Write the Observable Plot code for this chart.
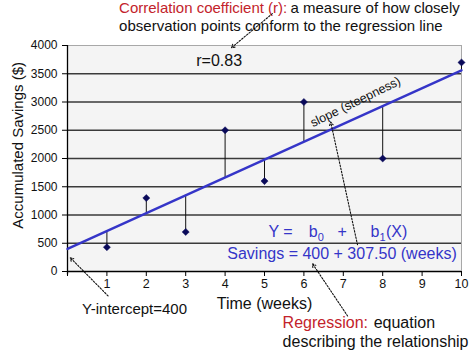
<!DOCTYPE html>
<html>
<head>
<meta charset="utf-8">
<script src="https://cdn.jsdelivr.net/npm/d3@7"></script>
<script src="https://cdn.jsdelivr.net/npm/@observablehq/plot@0.6"></script>
<style>
  html, body { margin: 0; padding: 0; background: #fff; }
  svg { display: block; font-family: "Liberation Sans", Arial, sans-serif; }
</style>
</head>
<body>
<div id="chart"></div>
<script>
// ---- data ----
const weeks = [1, 2, 3, 4, 5, 6, 8, 10];
const savings = [430, 1300, 700, 2500, 1600, 3000, 2000, 3700];
const yTicks = [0, 500, 1000, 1500, 2000, 2500, 3000, 3500, 4000];
const xTicks = [0, 1, 2, 3, 4, 5, 6, 7, 8, 9, 10];
const lineWeeks = [0, 10];
const lineSavings = [400, 3560];
const rText = "r=0.83";
const eqText = "Savings = 400 + 307.50 (weeks)";
const interceptText = "Y-intercept=400";

// ---- derived tables ----
const points = weeks.map((w, i) => ({week: w, savings: savings[i]}));
const fitLine = lineWeeks.map((w, i) => ({week: w, savings: lineSavings[i]}));
const slope = (lineSavings[1] - lineSavings[0]) / (lineWeeks[1] - lineWeeks[0]);
const fit = w => lineSavings[0] + slope * (w - lineWeeks[0]);
const residuals = points.map(d => ({week: d.week, y1: d.savings, y2: fit(d.week)}));

const RED = "#c3232b", BLUE = "#3535c8", NAVY = "#0a0a5a";
const arrowStyle = {stroke: "#111", strokeWidth: 1.1, strokeDasharray: "1.6,1.6", headLength: 5, bend: false};
const eqStyle = {textAnchor: "start", lineAnchor: "bottom", fontSize: 16, fill: BLUE};
const subStyle = {textAnchor: "start", lineAnchor: "bottom", fontSize: 11, fill: BLUE, dy: 4};

const chart = Plot.plot({
  width: 474,
  height: 355,
  marginLeft: 67,
  marginRight: 13,
  marginTop: 45,
  marginBottom: 84,
  style: {fontFamily: "'Liberation Sans', Arial, sans-serif", background: "#fff", overflow: "visible"},
  x: {domain: [0, 10]},
  y: {domain: [0, 4000]},
  marks: [
    Plot.frame({fill: "#f4f4f4", stroke: "#a8a8a8"}),
    Plot.ruleY(yTicks.filter(t => t > 0 && t < 4000), {stroke: "#3a3a3a", strokeWidth: 1.6}),
    Plot.ruleX([0], {stroke: "#000", strokeWidth: 1.3, y1: -60, y2: 4000}),
    Plot.ruleY([0], {stroke: "#000", strokeWidth: 1.3}),
    Plot.axisY({ticks: yTicks, tickSize: 5, tickPadding: 5, fontSize: 12, stroke: "#000", label: null, fill: "#111",
      tickFormat: d => String(d)}),
    Plot.axisX({ticks: xTicks, tickSize: 5, tickPadding: 3, fontSize: 12.5, label: null, fill: "#111",
      tickFormat: d => d === 0 ? "" : String(d)}),
    Plot.ruleX(residuals, {x: "week", y1: "y1", y2: "y2", stroke: "#111", strokeWidth: 1}),
    Plot.line(fitLine, {x: "week", y: "savings", stroke: BLUE, strokeWidth: 2.4}),
    Plot.dot(points, {x: "week", y: "savings", symbol: "diamond2", r: 3.2, fill: NAVY, stroke: NAVY, strokeWidth: 0.5}),

    // axis titles
    Plot.text([interceptText], {x: 0.37, y: -752, text: d => d, textAnchor: "start", lineAnchor: "bottom", fontSize: 15, fill: "#111"}),
    Plot.text(["Time (weeks)"], {x: 5.0, y: -663, text: d => d, lineAnchor: "bottom", fontSize: 16, fill: "#111"}),
    Plot.text(["Accumulated Savings ($)"], {x: -1.256, y: 2233, text: d => d, rotate: -90, fontSize: 15, fill: "#111"}),

    // correlation annotation
    Plot.text(["Correlation coefficient (r):"], {x: 1.31, y: 4582, text: d => d, textAnchor: "start", lineAnchor: "bottom", fontSize: 15, fill: RED}),
    Plot.text(["a measure of how closely"], {x: 5.66, y: 4582, text: d => d, textAnchor: "start", lineAnchor: "bottom", fontSize: 15, fill: "#111"}),
    Plot.text(["observation points conform to the regression line"], {x: 1.31, y: 4262, text: d => d, textAnchor: "start", lineAnchor: "bottom", fontSize: 15, fill: "#111"}),
    Plot.text([rText], {x: 3.85, y: 3729, text: d => d, fontSize: 16, fill: "#111"}),

    // slope
    Plot.text(["slope (steepness)"], {x: 7.31, y: 3000, text: d => d, rotate: -26, fontSize: 12.5, fill: "#111"}),

    // equations
    Plot.text(["Y ="], {x: 5.10, y: 617, text: d => d, ...eqStyle}),
    Plot.text(["b"], {x: 6.12, y: 617, text: d => d, ...eqStyle}),
    Plot.text(["0"], {x: 6.12, y: 617, text: d => d, ...subStyle, dx: 9}),
    Plot.text(["+"], {x: 6.85, y: 617, text: d => d, ...eqStyle}),
    Plot.text(["b"], {x: 7.69, y: 617, text: d => d, ...eqStyle}),
    Plot.text(["1"], {x: 7.69, y: 617, text: d => d, ...subStyle, dx: 9}),
    Plot.text(["(X)"], {x: 7.69, y: 617, text: d => d, ...eqStyle, dx: 15.5}),
    Plot.text([eqText], {x: 9.88, y: 226, text: d => d, textAnchor: "end", lineAnchor: "bottom", fontSize: 16, fill: BLUE}),

    // regression annotation
    Plot.text(["Regression:"], {x: 5.46, y: -1001, text: d => d, textAnchor: "start", lineAnchor: "bottom", fontSize: 16, fill: RED}),
    Plot.text(["equation"], {x: 7.77, y: -1001, text: d => d, textAnchor: "start", lineAnchor: "bottom", fontSize: 16, fill: "#111"}),
    Plot.text(["describing the relationship"], {x: 5.46, y: -1339, text: d => d, textAnchor: "start", lineAnchor: "bottom", fontSize: 16, fill: "#111"}),

    // dotted arrows
    Plot.arrow([{x1: 5.20, y1: 4564, x2: 4.16, y2: 3960}], {x1: "x1", y1: "y1", x2: "x2", y2: "y2", ...arrowStyle}),
    Plot.arrow([{x1: 1.03, y1: -432, x2: 0.07, y2: 244}], {x1: "x1", y1: "y1", x2: "x2", y2: "y2", ...arrowStyle}),
    Plot.arrow([{x1: 7.36, y1: 475, x2: 6.68, y2: 2645}], {x1: "x1", y1: "y1", x2: "x2", y2: "y2", ...arrowStyle}),
    Plot.arrow([{x1: 7.11, y1: -788, x2: 6.22, y2: 137}], {x1: "x1", y1: "y1", x2: "x2", y2: "y2", ...arrowStyle})
  ]
});
document.getElementById("chart").appendChild(chart);
</script>
</body>
</html>
